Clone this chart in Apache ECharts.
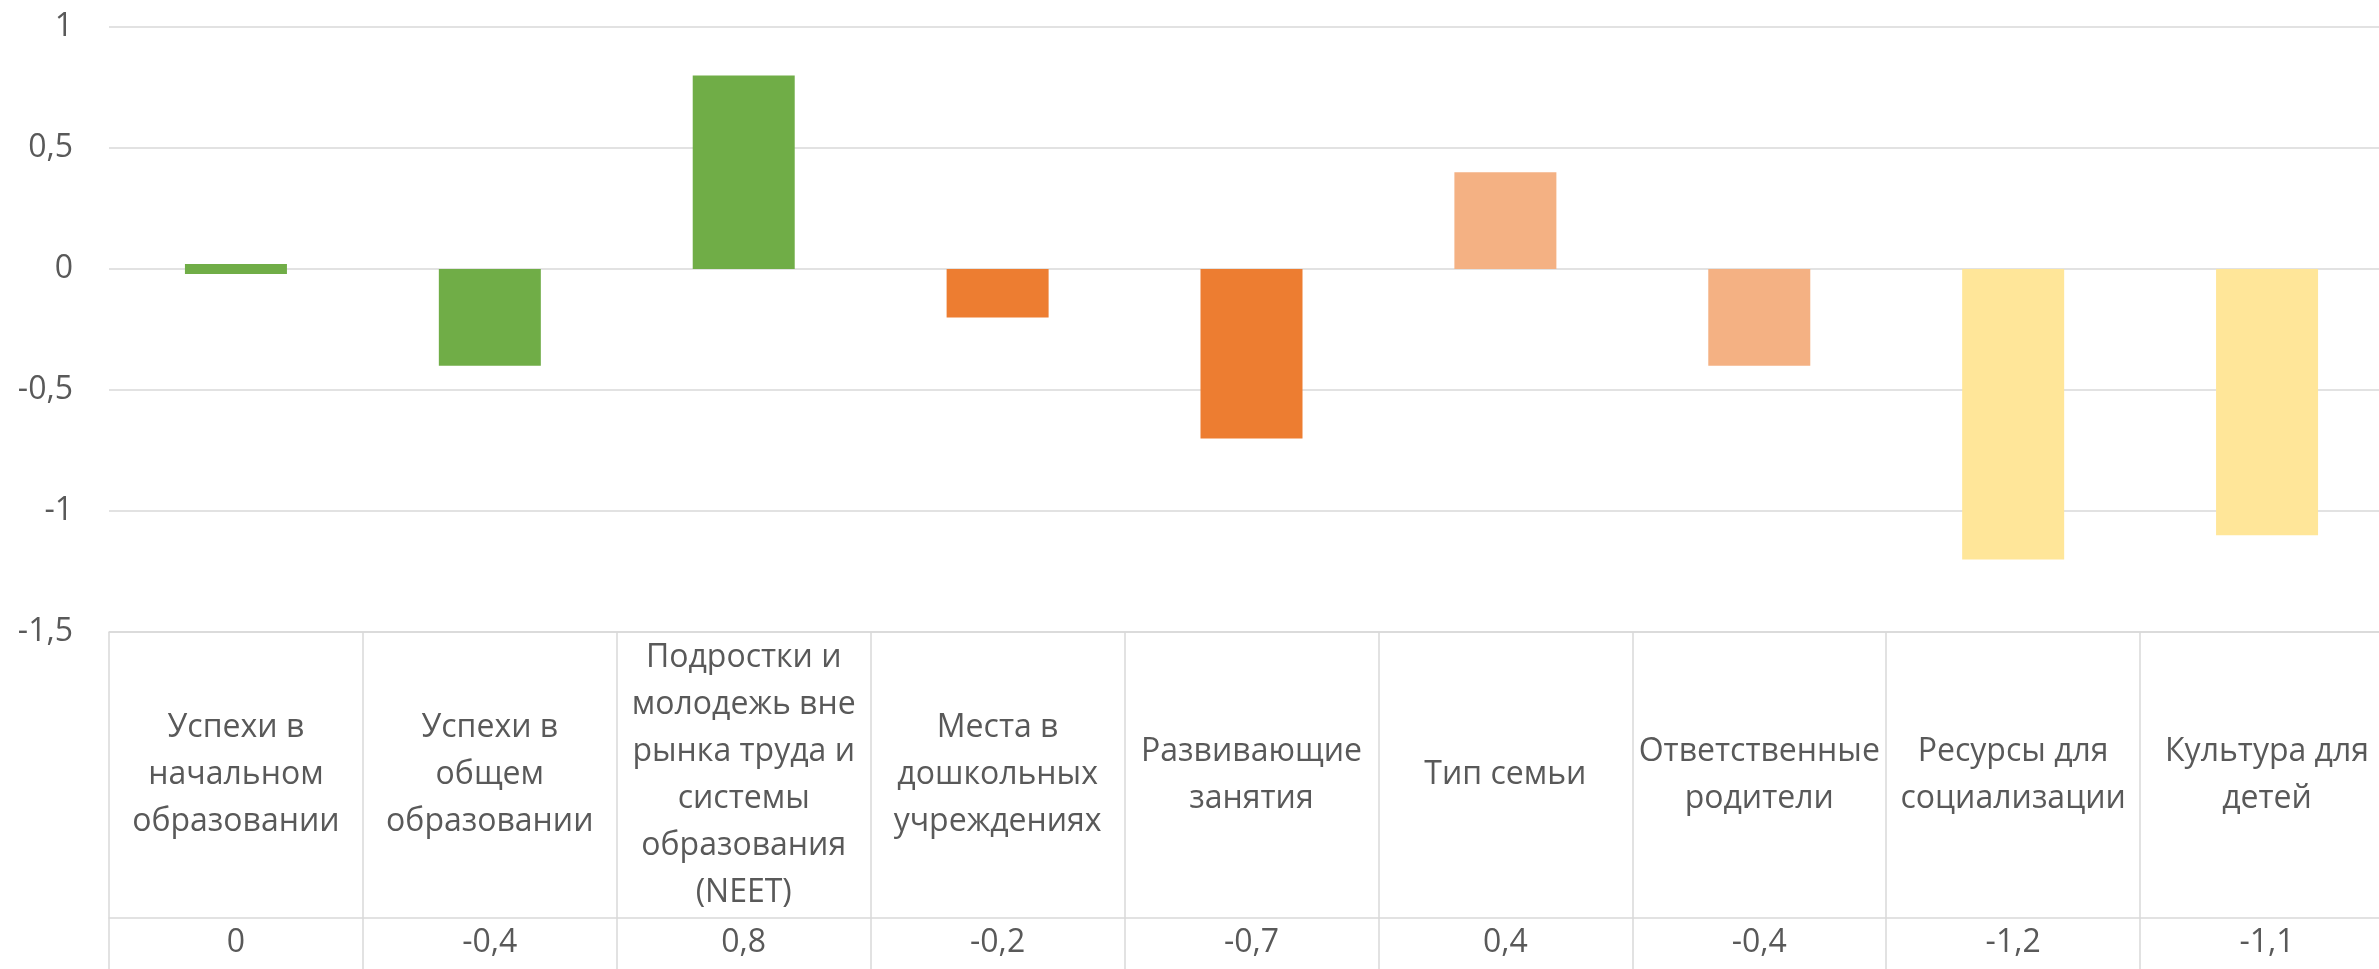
<!DOCTYPE html>
<html>
<head>
<meta charset="utf-8">
<script src="https://cdn.jsdelivr.net/npm/echarts@6/dist/echarts.min.js"></script>
<style>
html,body{margin:0;padding:0;background:#fff;overflow:hidden;width:2379px;height:969px;}
#c{width:2394px;height:969px;}
</style>
</head>
<body>
<div id="c"></div>
<script>
const categories = [
  'Успехи в\nначальном\nобразовании',
  'Успехи в\nобщем\nобразовании',
  'Подростки и\nмолодежь вне\nрынка труда и\nсистемы\nобразования\n(NEET)',
  'Места в\nдошкольных\nучреждениях',
  'Развивающие\nзанятия',
  'Тип семьи',
  'Ответственные\nродители',
  'Ресурсы для\nсоциализации',
  'Культура для\nдетей'
];
const values = [0, -0.4, 0.8, -0.2, -0.7, 0.4, -0.4, -1.2, -1.1];
const barColors = ['#70AD47', '#70AD47', '#70AD47', '#ED7D31', '#ED7D31', '#F4B183', '#F4B183', '#FFE699', '#FFE699'];
const yTicks = { min: -1.5, max: 1, interval: 0.5 };

const fmt = v => String(v).replace('.', ',');
const FONT = 'Open Sans';
const TXT = '#595959';
const LINE = '#d9d9d9';

const chart = echarts.init(document.getElementById('c'));
chart.setOption({
  animation: false,
  backgroundColor: '#fff',
  grid: { left: 109, right: 0, top: 27, bottom: 337, containLabel: false },
  xAxis: [
    {
      type: 'category',
      data: categories,
      position: 'bottom',
      axisLine: { show: true, onZero: false, lineStyle: { color: LINE, width: 1.5 } },
      axisTick: { show: true, alignWithLabel: false, interval: 0, length: 340, lineStyle: { color: LINE, width: 1.5 } },
      axisLabel: { interval: 0, margin: 143, verticalAlign: 'middle', align: 'center',
        fontSize: 32, lineHeight: 47, color: TXT, fontFamily: FONT },
      splitLine: { show: false }
    },
    {
      type: 'category',
      data: values.map(fmt),
      position: 'bottom',
      offset: 286,
      axisLine: { show: true, onZero: false, lineStyle: { color: LINE, width: 1.5 } },
      axisTick: { show: false },
      axisLabel: { interval: 0, margin: 25, verticalAlign: 'middle', align: 'center',
        fontSize: 32, color: TXT, fontFamily: FONT },
      splitLine: { show: false }
    }
  ],
  yAxis: {
    type: 'value',
    min: yTicks.min, max: yTicks.max, interval: yTicks.interval,
    axisLine: { show: false },
    axisTick: { show: false },
    axisLabel: { formatter: fmt, margin: 36, fontSize: 32, color: TXT, fontFamily: FONT },
    splitLine: { lineStyle: { color: LINE, width: 1.5 } }
  },
  series: [{
    type: 'bar',
    xAxisIndex: 0,
    barWidth: 102,
    data: values.map((v, i) => {
      const item = { value: v, itemStyle: { color: barColors[i] } };
      if (v === 0) { item.itemStyle.borderColor = barColors[i]; item.itemStyle.borderWidth = 10; }
      return item;
    })
  }]
});
</script>
</body>
</html>
